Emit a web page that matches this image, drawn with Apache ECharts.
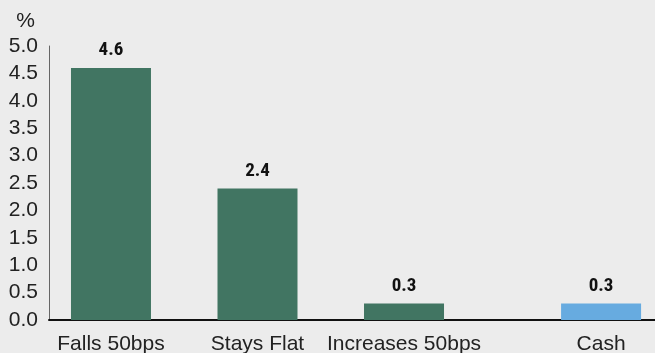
<!DOCTYPE html>
<html><head><meta charset="utf-8">
<script src="https://cdn.jsdelivr.net/npm/echarts@6/dist/echarts.min.js"></script>
<style>html,body{margin:0;padding:0;background:#ececec}#c{width:655px;height:353px}</style>
</head><body><div id="c"></div>
<script>
const categories = ["Falls 50bps", "Stays Flat", "Increases 50bps", "Cash"];
const values = [4.6, 2.4, 0.3, 0.3];
const barColors = ["#417562", "#417562", "#417562", "#67abe0"];
const yTicks = [0, 0.5, 1, 1.5, 2, 2.5, 3, 3.5, 4, 4.5, 5];
// layout: slot positions along the horizontal axis (Cash set apart)
const slots = [0, 1, 2, 3.345];

const font = "'Liberation Sans', Arial, sans-serif";
const chart = echarts.init(document.getElementById('c'), null, {renderer: 'canvas'});
chart.setOption({
  backgroundColor: '#ececec',
  animation: false,
  grid: {left: 49, right: 0, top: 46, bottom: 33, containLabel: false, outerBoundsMode: 'none'},
  xAxis: {
    type: 'value', min: -0.423, max: 3.713,
    splitLine: {show: false},
    axisLine: {show: true, onZero: false, lineStyle: {color: '#111', width: 2}},
    axisTick: {show: false},
    axisLabel: {
      customValues: slots,
      formatter: v => { const i = slots.indexOf(v); return i >= 0 ? categories[i] : ''; },
      color: '#222', fontSize: 21, fontFamily: font, margin: 14
    }
  },
  yAxis: {
    type: 'value', min: yTicks[0], max: yTicks[yTicks.length - 1], interval: 0.5,
    name: '%', nameGap: 14,
    nameTextStyle: {color: '#222', fontSize: 21, fontFamily: font, align: 'right', padding: [0, 14, 0, 0]},
    splitLine: {show: false},
    axisLine: {show: true, onZero: false, lineStyle: {color: '#666', width: 1}},
    axisTick: {show: false},
    axisLabel: {formatter: v => v.toFixed(1), color: '#222', fontSize: 21, fontFamily: font, margin: 11}
  },
  series: [{
    type: 'bar',
    barWidth: 80,
    data: values.map((v, i) => ({value: [slots[i], v], itemStyle: {color: barColors[i]}})),
    label: {
      show: true, position: 'top', distance: 8,
      formatter: p => p.value[1].toFixed(1),
      color: '#111', fontWeight: 'bold', fontSize: 19,
      fontFamily: "'Roboto Condensed', 'DejaVu Sans Condensed', " + font
    }
  }]
});
</script></body></html>
